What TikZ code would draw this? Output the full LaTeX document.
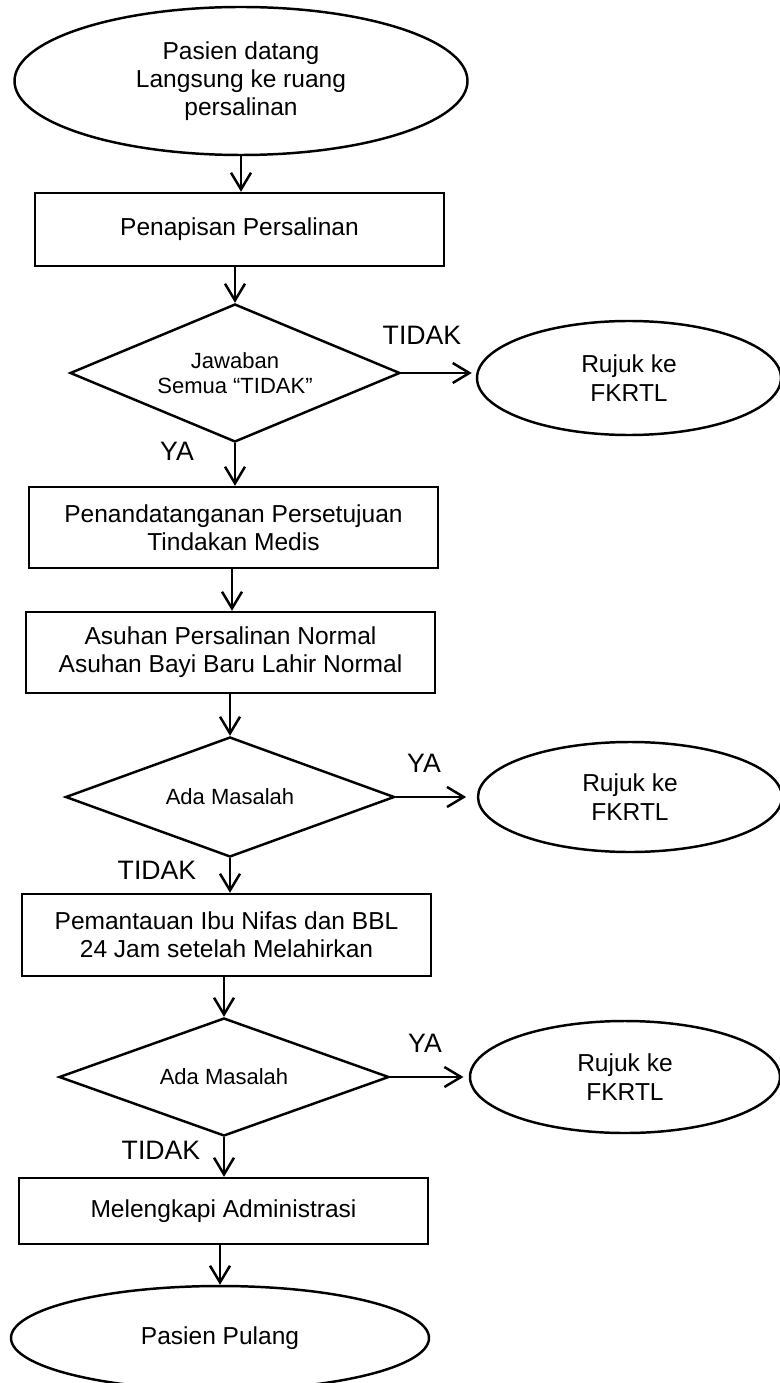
\documentclass[tikz,border=0pt]{standalone}
\usepackage{fontspec}
\setmainfont{Liberation Sans}
\usetikzlibrary{shapes.geometric,arrows.meta}
\begin{document}
\begin{tikzpicture}[x=0.75pt,y=-0.75pt,
  base/.style={draw=black, line width=1.85pt, inner sep=0pt, align=center, text=black},
  boxnode/.style={base, rectangle, font=\fontsize{18.4}{21}\selectfont},
  ovalnode/.style={base, ellipse, font=\fontsize{18.4}{21.2}\selectfont},
  decision/.style={base, diamond, font=\fontsize{16.5}{18.75}\selectfont},
  lbl/.style={inner sep=0pt, font=\fontsize{20}{24}\selectfont},
  flow/.style={line width=1.85pt, -{Straight Barb[length=12.5pt,width=15pt]}},
]
\useasboundingbox[fill=white] (0,0) rectangle (779,1383);

\node[ovalnode, minimum width=339.75pt, minimum height=111pt] (start) at (241,81) {Pasien datang\\Langsung ke ruang\\persalinan};
\node[boxnode, minimum width=306.75pt, minimum height=54.75pt] (b1) at (239.5,229.5) {Penapisan Persalinan};
\node[decision, aspect=2.39, minimum width=247.5pt, minimum height=103.5pt] (d1) at (235,373) {Jawaban\\Semua “TIDAK”};
\node[ovalnode, minimum width=228pt, minimum height=85.5pt] (r1) at (629,378) {Rujuk ke\\FKRTL};
\node[boxnode, minimum width=306.75pt, minimum height=60.75pt] (b2) at (233.5,527.5) {Penandatanganan Persetujuan\\Tindakan Medis};
\node[boxnode, minimum width=306.75pt, minimum height=60.75pt] (b3) at (230.5,652.5) {Asuhan Persalinan Normal\\Asuhan Bayi Baru Lahir Normal};
\node[decision, aspect=2.74, minimum width=246.75pt, minimum height=90pt] (d2) at (230,797) {Ada Masalah};
\node[ovalnode, minimum width=228pt, minimum height=82.5pt] (r2) at (630,797) {Rujuk ke\\FKRTL};
\node[boxnode, minimum width=306.75pt, minimum height=61.5pt] (b4) at (226.5,935) {Pemantauan Ibu Nifas dan BBL\\24 Jam setelah Melahirkan};
\node[decision, aspect=2.8, minimum width=247.5pt, minimum height=88.5pt] (d3) at (224,1077) {Ada Masalah};
\node[ovalnode, minimum width=232.5pt, minimum height=84pt] (r3) at (625,1077) {Rujuk ke\\FKRTL};
\node[boxnode, minimum width=306.75pt, minimum height=49.5pt] (b5) at (223.5,1211) {Melengkapi Administrasi};
\node[ovalnode, minimum width=313.5pt, minimum height=78pt] (end) at (220,1338) {Pasien Pulang};

\node[lbl] (t1) at (422,335) {TIDAK};
\node[lbl] (y1) at (177,451) {YA};
\node[lbl] (y2) at (424,763) {YA};
\node[lbl] (t2) at (157,870) {TIDAK};
\node[lbl] (y3) at (425,1043) {YA};
\node[lbl] (t3) at (161,1150) {TIDAK};

\draw[flow] (start.south) -- (start.south |- b1.north);
\draw[flow] (b1.south -| d1.north) -- (d1.north);
\draw[flow] (d1.south) -- (d1.south |- b2.north);
\draw[flow] (b2.south -| 232,0) -- (b3.north -| 232,0);
\draw[flow] (b3.south -| d2.north) -- (d2.north);
\draw[flow] (d2.south) -- (d2.south |- b4.north);
\draw[flow] (b4.south -| d3.north) -- (d3.north);
\draw[flow] (d3.south) -- (d3.south |- b5.north);
\draw[flow] (b5.south -| end.north) -- (end.north);

\draw[flow, shorten >=3pt] (d1.east) -- (d1.east -| r1.west);
\draw[flow, shorten >=8pt] (d2.east) -- (d2.east -| r2.west);
\draw[flow, shorten >=4pt] (d3.east) -- (d3.east -| r3.west);
\end{tikzpicture}
\end{document}
